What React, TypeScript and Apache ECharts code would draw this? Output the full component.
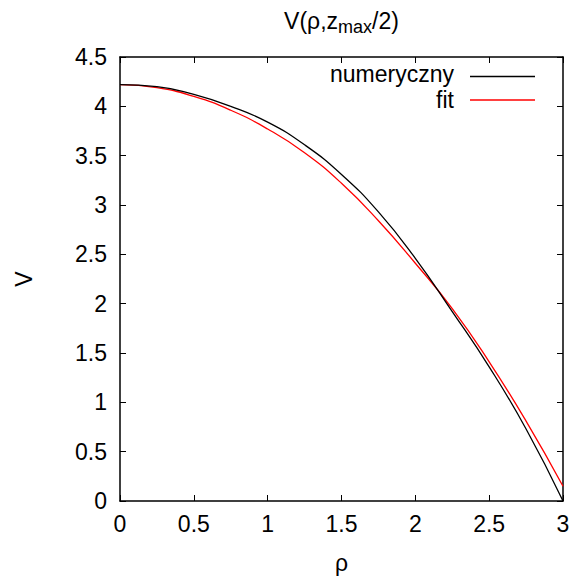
import React, { useEffect, useRef } from "react";
import * as echarts from "echarts";

const rho = [0, 0.25, 0.5, 0.75, 1, 1.25, 1.5, 1.75, 2, 2.25, 2.5, 2.75, 3];
const numeryczny = [4.22, 4.2, 4.12, 4.0, 3.84, 3.61, 3.31, 2.93, 2.46, 1.92, 1.36, 0.73, 0];
const fit = [4.22, 4.19, 4.1, 3.96, 3.77, 3.53, 3.22, 2.84, 2.41, 1.95, 1.41, 0.81, 0.15];
const seriesNames = ["numeryczny", "fit"];
const seriesColors = ["#000000", "#ff0000"];
const titleParts = ["V(ρ,z", "max", "/2)"];

const FONT_NAME = "Liberation Sans";
const FONT = "Liberation Sans, Arial, Helvetica, sans-serif";
const FS = 23;
const FS_SUB = 18;

function measure(text: string, size: number): number {
  const c = document.createElement("canvas");
  const ctx = c.getContext("2d");
  if (!ctx) return text.length * size * 0.55;
  ctx.font = `${size}px "${FONT_NAME}", Arial, sans-serif`;
  return ctx.measureText(text).width;
}

export default function App() {
  const ref = useRef<HTMLDivElement>(null);
  useEffect(() => {
    if (!ref.current) return;
    const chart = echarts.init(ref.current, null, { renderer: "svg" });
    const toPairs = (vals: number[]) => rho.map((r, i) => [r, vals[i]]);
    const gridL = 120, gridT = 57, gridR = 20, gridB = 83;
    const axisCommon = {
      axisLine: { show: true, onZero: false, lineStyle: { color: "#000", width: 1.5 } },
      axisTick: { show: true, inside: true, length: 6, lineStyle: { color: "#000", width: 1 } },
      splitLine: { show: false },
    };

    const w1 = measure(titleParts[0], FS);
    const w2 = measure(titleParts[1], FS_SUB);
    const w3 = measure(titleParts[2], FS);
    const titleCx = gridL + (583 - gridL - gridR) / 2;
    const tx0 = titleCx - (w1 + w2 + w3) / 2;

    const textEl = (text: string, x: number, y: number, size: number, align = "left") => ({
      type: "text",
      x,
      y,
      silent: true,
      style: {
        text,
        font: `${size}px ${FONT}`,
        fill: "#000",
        align,
        verticalAlign: "middle",
      },
    });

    chart.setOption({
      animation: false,
      backgroundColor: "#fff",
      textStyle: { fontFamily: FONT },
      grid: { left: gridL, top: gridT, right: gridR, bottom: gridB, containLabel: false },
      xAxis: [
        {
          type: "value",
          min: 0,
          max: 3,
          interval: 0.5,
          position: "bottom",
          name: "ρ",
          nameLocation: "middle",
          nameGap: 50,
          nameTextStyle: { fontSize: FS, color: "#000", fontFamily: FONT },
          axisLabel: { fontSize: FS, color: "#000", margin: 11, fontFamily: FONT },
          ...axisCommon,
        },
        {
          type: "value",
          min: 0,
          max: 3,
          interval: 0.5,
          position: "top",
          axisLabel: { show: false },
          ...axisCommon,
        },
      ],
      yAxis: [
        {
          type: "value",
          min: 0,
          max: 4.5,
          interval: 0.5,
          position: "left",
          name: "V",
          nameLocation: "middle",
          nameRotate: 90,
          nameGap: 85,
          nameTextStyle: { fontSize: FS, color: "#000", fontFamily: FONT },
          axisLabel: { fontSize: FS, color: "#000", margin: 13, fontFamily: FONT },
          ...axisCommon,
        },
        {
          type: "value",
          min: 0,
          max: 4.5,
          interval: 0.5,
          position: "right",
          axisLabel: { show: false },
          ...axisCommon,
        },
      ],
      series: [
        {
          name: seriesNames[0],
          type: "line",
          data: toPairs(numeryczny),
          smooth: 0.5,
          symbol: "none",
          lineStyle: { color: seriesColors[0], width: 1.3 },
          z: 3,
        },
        {
          name: seriesNames[1],
          type: "line",
          data: toPairs(fit),
          smooth: 0.5,
          symbol: "none",
          lineStyle: { color: seriesColors[1], width: 1.3 },
          z: 2,
        },
      ],
      graphic: [
        textEl(titleParts[0], tx0, 20.5, FS),
        textEl(titleParts[1], tx0 + w1, 26.5, FS_SUB),
        textEl(titleParts[2], tx0 + w1 + w2, 20.5, FS),
        textEl(seriesNames[0], 454, 73.5, FS, "right"),
        {
          type: "line",
          shape: { x1: 470, y1: 76.5, x2: 535, y2: 76.5 },
          style: { stroke: seriesColors[0], lineWidth: 1.3 },
        },
        textEl(seriesNames[1], 454, 99.5, FS, "right"),
        {
          type: "line",
          shape: { x1: 470, y1: 100, x2: 535, y2: 100 },
          style: { stroke: seriesColors[1], lineWidth: 1.3 },
        },
      ],
    });
    return () => chart.dispose();
  }, []);
  return (
    <div
      ref={ref}
      style={{ position: "fixed", left: 0, top: 0, width: 583, height: 584, background: "#fff" }}
    />
  );
}
